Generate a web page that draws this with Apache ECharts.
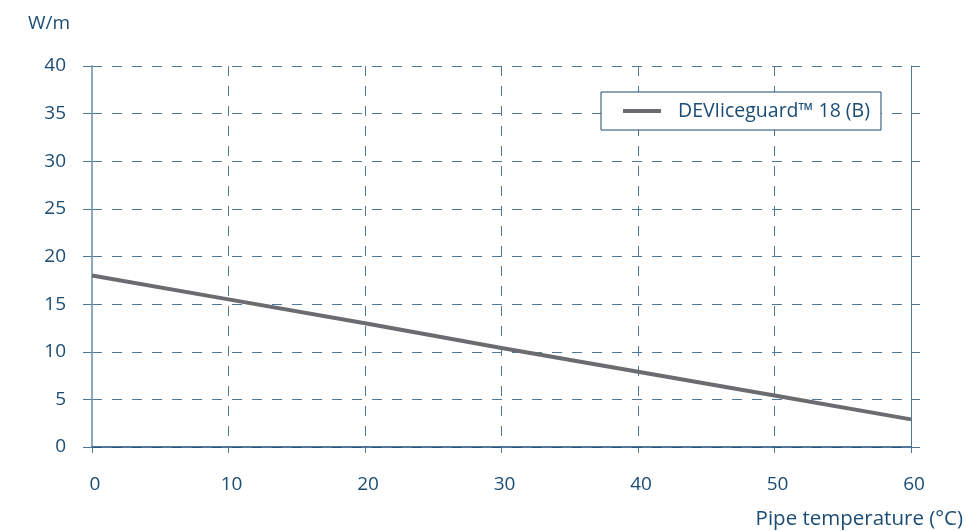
<!DOCTYPE html>
<html><head><meta charset="utf-8">
<script src="https://cdn.jsdelivr.net/npm/echarts@6/dist/echarts.min.js"></script>
<style>html,body{margin:0;padding:0;background:#fff}#c{width:966px;height:531px}</style>
</head><body><div id="c"></div>
<script>
const temps = [0, 10, 20, 30, 40, 50, 60];
const power = [18, 15.5, 13, 10.4, 7.9, 5.4, 2.9];
const seriesName = 'DEVIiceguard™ 18 (B)';
const yTitle = 'W/m';
const xTitle = 'Pipe temperature (°C)';

const navy = '#1b4c74';
const dash = '#4f7898';
const font = 'Open Sans';
const chart = echarts.init(document.getElementById('c'));
chart.setOption({
  animation: false,
  grid: {left: 92, right: 53, top: 66, bottom: 84},
  legend: {
    left: 601, top: 92, width: 286,
    padding: [9, 11, 9, 22],
    borderColor: navy, borderWidth: 1, backgroundColor: '#fff',
    itemWidth: 38, itemHeight: 4, icon: 'rect',
    textStyle: {color: navy, fontFamily: font, fontSize: 19.5, padding: [0, 0, 0, 12]},
    data: [seriesName]
  },
  xAxis: {
    type: 'value', min: 0, max: 60, interval: 10,
    name: xTitle, nameLocation: 'end',
    nameTextStyle: {color: navy, fontFamily: font, fontSize: 20.5, align: 'right', verticalAlign: 'top', padding: [62, -37, 0, 0]},
    axisLine: {show: true, lineStyle: {color: navy, width: 1.5}},
    axisTick: {show: true, length: 6, lineStyle: {color: dash}},
    axisLabel: {color: navy, fontFamily: font, fontSize: 19, margin: 28, padding: [0, 0, 0, 6]},
    splitLine: {show: true, lineStyle: {color: dash, type: [10, 10], width: 1}}
  },
  yAxis: [{
    type: 'value', min: 0, max: 40, interval: 5,
    name: yTitle, nameLocation: 'end',
    nameTextStyle: {color: navy, fontFamily: font, fontSize: 19, align: 'left', padding: [0, 0, 18, -64]},
    axisLine: {show: true, lineStyle: {color: '#8ba8c0', width: 2}},
    axisTick: {show: true, length: 9, lineStyle: {color: dash}},
    axisLabel: {color: navy, fontFamily: font, fontSize: 19, margin: 26},
    splitLine: {show: true, lineStyle: {color: dash, type: [10, 10], width: 1}}
  }, {
    type: 'value', min: 0, max: 40, interval: 5, position: 'right',
    axisLine: {show: true, lineStyle: {color: dash, width: 1}},
    axisTick: {show: true, length: 9, lineStyle: {color: dash}},
    axisLabel: {show: false},
    splitLine: {show: false}
  }],
  series: [{
    name: seriesName, type: 'line',
    data: temps.map((t, i) => [t, power[i]]),
    showSymbol: false, symbol: 'none',
    lineStyle: {color: '#6b6c70', width: 4},
    itemStyle: {color: '#6b6c70'}
  }]
});
</script></body></html>
